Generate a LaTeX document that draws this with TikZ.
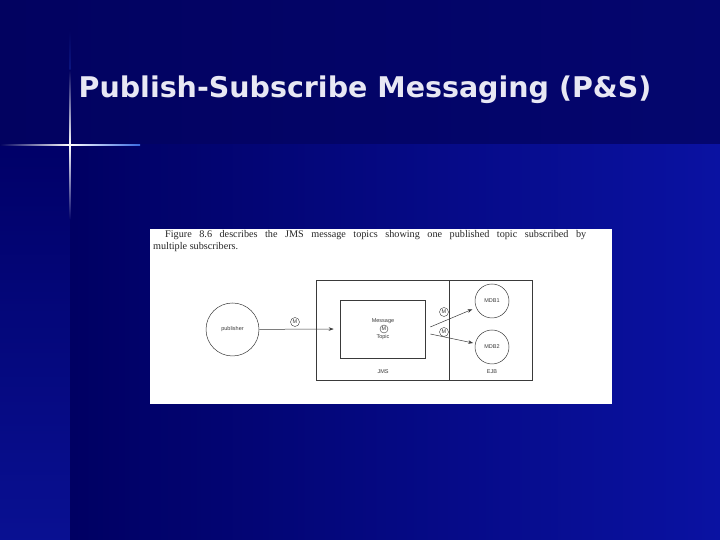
\documentclass[tikz,border=0pt]{standalone}
\usepackage{fontspec}
\setmainfont{Liberation Serif}
\newfontfamily\titlefont{DejaVu Sans}
\newfontfamily\labelfont{Liberation Sans}
\usepackage{xcolor}
\usetikzlibrary{shapes.geometric, arrows.meta, positioning}
\definecolor{bandtop}{HTML}{020260}
\definecolor{bandtopr}{HTML}{04066E}
\definecolor{deepblue}{HTML}{000068}
\definecolor{brightblue}{HTML}{0A12A2}
\definecolor{flare}{HTML}{3A6AE0}
\definecolor{titlegray}{HTML}{E8E8F4}
\definecolor{inkgray}{HTML}{3A3A3A}

\begin{document}
\begin{tikzpicture}[x=1pt, y=1pt,
  ring/.style={circle, draw=inkgray, line width=0.5pt, inner sep=0pt, font=\labelfont\fontsize{5.5}{6}\selectfont, text=inkgray},
  mtag/.style={circle, draw=inkgray, line width=0.4pt, inner sep=0pt, minimum size=9pt, font=\labelfont\fontsize{5.5}{6}\selectfont, text=inkgray},
  tag/.style={font=\labelfont\fontsize{5.5}{6}\selectfont, text=inkgray, inner sep=0pt},
  arrow/.style={-{Stealth[length=5pt, width=3.5pt]}, draw=inkgray, line width=0.5pt}]
\useasboundingbox (0,0) rectangle (720,540);
% background
\shade[left color=bandtop, right color=bandtopr] (0,395) rectangle (720,540);
\shade[top color=deepblue, bottom color=brightblue!90!black] (0,0) rectangle (70,395);
\shade[left color=deepblue!95!black, right color=brightblue] (70,0) rectangle (720,395);
\shade[left color=bandtop, right color=flare, middle color=white] (0,394.3) rectangle (140,395.7);
\shade[top color=bandtop, bottom color=deepblue, middle color=white] (69.3,320) rectangle (70.7,470);
\shade[top color=bandtop, bottom color=deepblue!80!flare] (69.4,470) rectangle (70.6,510);
% title
\node[font=\titlefont\bfseries\fontsize{28.5}{32}\selectfont, text=titlegray] (title) at (365,450) {Publish-Subscribe Messaging (P\&S)};
% figure page
\fill[white] (150,136) rectangle (612,311);
\node[anchor=north west, inner sep=0pt, text width=433pt, align=justify, font=\fontsize{10.2}{12}\selectfont, text=black!85] (caption) at (153,310)
  {\hspace*{12pt}Figure 8.6 describes the JMS message topics showing one published topic subscribed by\linebreak multiple subscribers.};
% JMS / EJB frame
\draw[inkgray, line width=0.6pt] (316,160) rectangle (532,260);
\draw[inkgray, line width=0.6pt] (449,160) -- (449,260);
\node[tag] (jms) at (383,168) {JMS};
\node[tag] (ejb) at (492,168) {EJB};
% nodes
\node[ring, minimum size=53pt] (pub) at (232.5,210.5) {publisher};
\node[rectangle, draw=inkgray, line width=0.6pt, minimum width=85pt, minimum height=58pt] (topic) at (382.5,211) {};
\node[tag] (msg) at (383,219) {Message};
\node[mtag, minimum size=8pt] (mtop) at (384,211) {M};
\node[tag] (topictxt) at (383,203) {Topic};
\node[ring, minimum size=34pt] (mdba) at (492,239) {MDB1};
\node[ring, minimum size=34pt] (mdbb) at (492,193) {MDB2};
\node[mtag] (mpub) at (295,218) {M};
\node[mtag] (ma) at (444,228) {M};
\node[mtag] (mb) at (444,208) {M};
% connectors
\coordinate (outa) at ([xshift=5pt, yshift=2pt]topic.east);
\coordinate (outb) at ([xshift=5pt, yshift=-5pt]topic.east);
\draw[arrow, shorten >=6pt] (pub) -- (topic.west);
\draw[arrow, shorten >=4pt] (outa) -- (mdba);
\draw[arrow, shorten >=2pt] (outb) -- (mdbb);
\end{tikzpicture}
\end{document}
